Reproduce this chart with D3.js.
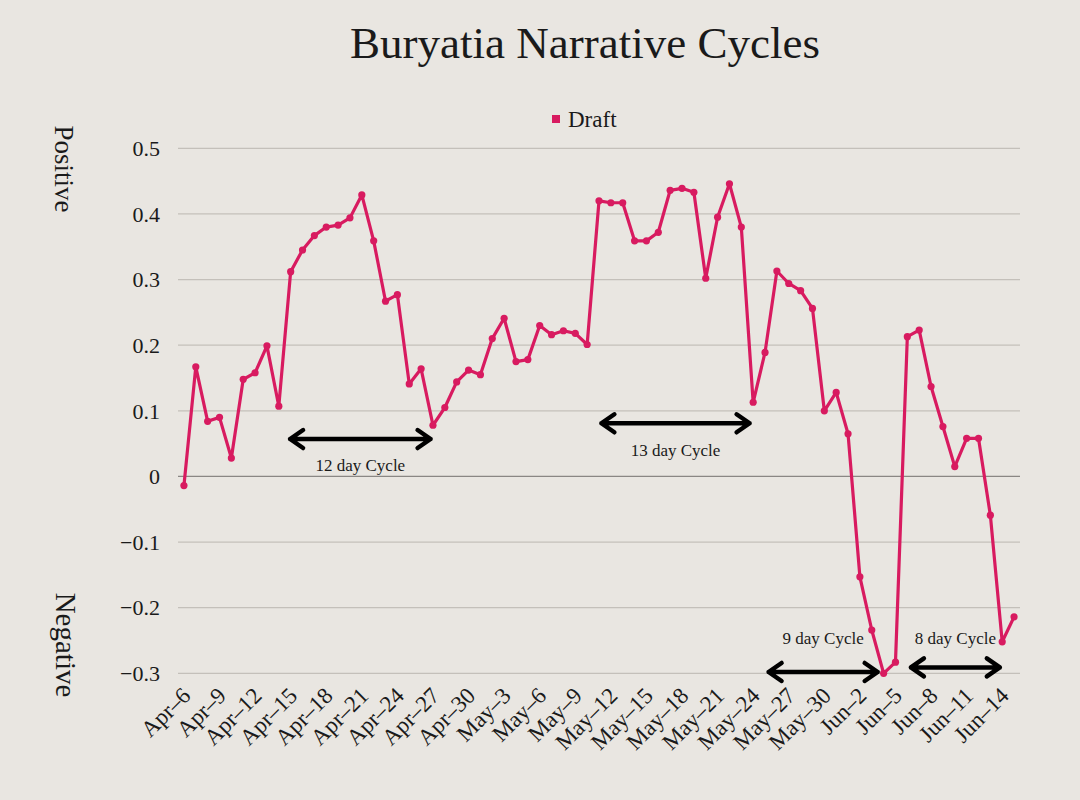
<!DOCTYPE html>
<html>
<head>
<meta charset="utf-8">
<script src="https://cdnjs.cloudflare.com/ajax/libs/d3/7.8.5/d3.min.js"></script>
<style>
  body { margin: 0; background: #e9e6e1; }
  svg text { font-family: "Liberation Serif", "DejaVu Serif", serif; fill: #1a1a1a; }
</style>
</head>
<body>
<svg id="chart"></svg>
<script>
// categories (one per day)
var dates = [
  "Apr-6","Apr-7","Apr-8","Apr-9","Apr-10","Apr-11","Apr-12","Apr-13","Apr-14","Apr-15",
  "Apr-16","Apr-17","Apr-18","Apr-19","Apr-20","Apr-21","Apr-22","Apr-23","Apr-24","Apr-25",
  "Apr-26","Apr-27","Apr-28","Apr-29","Apr-30","May-1","May-2","May-3","May-4","May-5",
  "May-6","May-7","May-8","May-9","May-10","May-11","May-12","May-13","May-14","May-15",
  "May-16","May-17","May-18","May-19","May-20","May-21","May-22","May-23","May-24","May-25",
  "May-26","May-27","May-28","May-29","May-30","May-31","Jun-1","Jun-2","Jun-3","Jun-4",
  "Jun-5","Jun-6","Jun-7","Jun-8","Jun-9","Jun-10","Jun-11","Jun-12","Jun-13","Jun-14",
  "Jun-15"
];

// series values
var draft = [
  -0.014, 0.167, 0.084, 0.090, 0.028, 0.148, 0.158, 0.199, 0.107, 0.312,
  0.345, 0.367, 0.380, 0.383, 0.394, 0.429, 0.359, 0.267, 0.277, 0.141,
  0.164, 0.078, 0.105, 0.144, 0.162, 0.155, 0.210, 0.241, 0.175, 0.178,
  0.230, 0.216, 0.222, 0.218, 0.201, 0.420, 0.417, 0.417, 0.359, 0.359,
  0.372, 0.436, 0.439, 0.433, 0.302, 0.395, 0.446, 0.380, 0.113, 0.189,
  0.313, 0.294, 0.283, 0.256, 0.100, 0.128, 0.065, -0.153, -0.234, -0.300,
  -0.283, 0.213, 0.223, 0.137, 0.076, 0.015, 0.058, 0.058, -0.059, -0.252,
  -0.214
];

// x tick labels (every third day)
var tickLabels = [
  "Apr–6","Apr–9","Apr–12","Apr–15","Apr–18","Apr–21","Apr–24","Apr–27","Apr–30",
  "May–3","May–6","May–9","May–12","May–15","May–18","May–21","May–24","May–27","May–30",
  "Jun–2","Jun–5","Jun–8","Jun–11","Jun–14"
];
var tickIndex = d3.range(0, dates.length, 3);

// cycle annotations: start/end day index, arrow level, label level
var cycleLabels    = ["12 day Cycle", "13 day Cycle", "9 day Cycle", "8 day Cycle"];
var cycleStart     = [8.95, 35.2, 49.3, 61.3];
var cycleEnd       = [20.8, 47.7, 58.5, 68.8];
var cycleLevel     = [0.057, 0.081, -0.298, -0.291];
var cycleTextLevel = [0.008, 0.031, -0.256, -0.256];

var width = 1080, height = 800;
var lineColor = "#d81b60";

var svg = d3.select("#chart")
    .attr("width", width)
    .attr("height", height);

svg.append("rect")
    .attr("width", width)
    .attr("height", height)
    .attr("fill", "#e9e6e1");

// set the ranges
var x = d3.scaleBand().domain(d3.range(dates.length)).range([178, 1020]);
var xc = function(i) { return x(i) + x.bandwidth() / 2; };
var xi = d3.scaleLinear().domain([0, dates.length - 1]).range([xc(0), xc(dates.length - 1)]);
var y = d3.scaleLinear().domain([-0.3, 0.5]).range([673.3, 148.3]);

// title
svg.append("text")
    .attr("x", 585)
    .attr("y", 58)
    .attr("text-anchor", "middle")
    .style("font-size", "45px")
    .text("Buryatia Narrative Cycles");

// legend
svg.append("rect")
    .attr("x", 552).attr("y", 115)
    .attr("width", 8).attr("height", 8)
    .attr("fill", lineColor);
svg.append("text")
    .attr("x", 568).attr("y", 127)
    .style("font-size", "23px")
    .text("Draft");

// gridlines
var yTicks = y.ticks(8);
svg.append("g")
    .selectAll("line")
    .data(yTicks)
    .enter().append("line")
    .attr("x1", 178).attr("x2", 1020)
    .attr("y1", function(d) { return y(d); })
    .attr("y2", function(d) { return y(d); })
    .attr("stroke", function(d) { return Math.abs(d) < 1e-9 ? "#8a8784" : "#c4c0ba"; })
    .attr("stroke-width", 1.3);

// y axis labels
svg.append("g")
    .selectAll("text")
    .data(yTicks)
    .enter().append("text")
    .attr("x", 160)
    .attr("y", function(d) { return y(d); })
    .attr("dy", "0.35em")
    .attr("text-anchor", "end")
    .style("font-size", "22px")
    .text(function(d) { return Math.abs(d) < 1e-9 ? "0" : d3.format(".1f")(d); });

// side labels
svg.append("text")
    .attr("transform", "translate(55,169) rotate(90)")
    .attr("text-anchor", "middle")
    .style("font-size", "27px")
    .text("Positive");
svg.append("text")
    .attr("transform", "translate(56,645) rotate(90)")
    .attr("text-anchor", "middle")
    .style("font-size", "29px")
    .text("Negative");

// x axis labels
svg.append("g")
    .selectAll("text")
    .data(tickIndex)
    .enter().append("text")
    .attr("transform", function(d) { return "translate(" + (xc(d) + 8) + ",697) rotate(-45)"; })
    .attr("text-anchor", "end")
    .style("font-size", "23px")
    .text(function(d, i) { return tickLabels[i]; });

// the line
var valueline = d3.line()
    .x(function(d, i) { return xc(i); })
    .y(function(d) { return y(d); });

svg.append("path")
    .datum(draft)
    .attr("d", valueline)
    .attr("fill", "none")
    .attr("stroke", lineColor)
    .attr("stroke-width", 3.2)
    .attr("stroke-linejoin", "round");

svg.append("g")
    .selectAll("circle")
    .data(draft)
    .enter().append("circle")
    .attr("cx", function(d, i) { return xc(i); })
    .attr("cy", function(d) { return y(d); })
    .attr("r", 3.6)
    .attr("fill", lineColor);

// cycle arrows
var cyc = svg.append("g")
    .selectAll("g")
    .data(cycleLabels)
    .enter().append("g");

cyc.append("path")
    .attr("d", function(d, i) {
        var x0 = xi(cycleStart[i]), x1 = xi(cycleEnd[i]), yy = y(cycleLevel[i]);
        var hx = 13, hy = 9;
        return "M" + x0 + "," + yy + "L" + x1 + "," + yy +
               "M" + (x0 + hx) + "," + (yy - hy) + "L" + x0 + "," + yy + "L" + (x0 + hx) + "," + (yy + hy) +
               "M" + (x1 - hx) + "," + (yy - hy) + "L" + x1 + "," + yy + "L" + (x1 - hx) + "," + (yy + hy);
    })
    .attr("fill", "none")
    .attr("stroke", "#000")
    .attr("stroke-width", 4.5)
    .attr("stroke-linecap", "round")
    .attr("stroke-linejoin", "round");

cyc.append("text")
    .attr("x", function(d, i) { return (xi(cycleStart[i]) + xi(cycleEnd[i])) / 2; })
    .attr("y", function(d, i) { return y(cycleTextLevel[i]); })
    .attr("text-anchor", "middle")
    .style("font-size", "17px")
    .text(function(d) { return d; });
</script>
</body>
</html>
